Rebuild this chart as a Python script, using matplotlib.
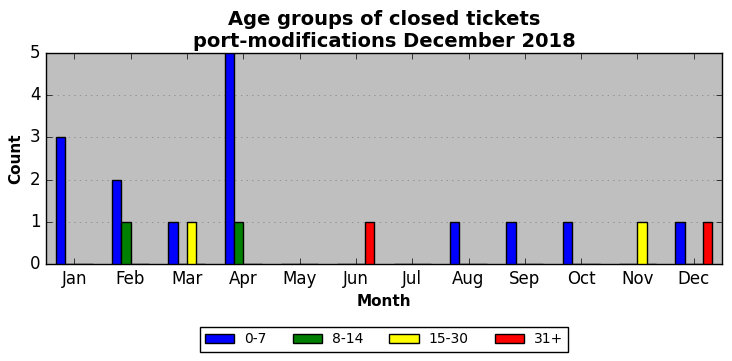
import numpy as np
import matplotlib
matplotlib.use('Agg')
import matplotlib.pyplot as plt

plt.style.use('classic')

months = ['Jan', 'Feb', 'Mar', 'Apr', 'May', 'Jun', 'Jul', 'Aug', 'Sep', 'Oct', 'Nov', 'Dec']
groups = ['0-7', '8-14', '15-30', '31+']
colors = ['blue', 'green', 'yellow', 'red']

age_0_7 = [3, 2, 1, 5, 0, 0, 0, 1, 1, 1, 0, 1]
age_8_14 = [0, 1, 0, 1, 0, 0, 0, 0, 0, 0, 0, 0]
age_15_30 = [0, 0, 1, 0, 0, 0, 0, 0, 0, 0, 1, 0]
age_31 = [0, 0, 0, 0, 0, 1, 0, 0, 0, 0, 0, 1]
series = [age_0_7, age_8_14, age_15_30, age_31]

fig = plt.figure(figsize=(7.32, 3.61), dpi=100, facecolor='white')
ax = fig.add_axes([46/732, 1-264/361, 676/732, 211/361])
ax.set_facecolor('#bfbfbf')

x = np.arange(len(months))
w = 0.165
for i in range(4):
    ax.bar(x + (i - 1.5) * w, series[i], w, color=colors[i], edgecolor='black',
           linewidth=1, label=groups[i], align='center', zorder=3)

ax.set_xlim(-0.5, 11.5)
ax.set_ylim(0, 5)
ax.set_xticks(x)
ax.set_xticklabels(months, fontsize=12)
ax.tick_params(axis='y', labelsize=12)
ax.yaxis.grid(True, linestyle=':', color='#808080', zorder=0)
ax.set_axisbelow(True)
ax.set_xlabel('Month', fontsize=11, fontweight='bold')
ax.set_ylabel('Count', fontsize=11, fontweight='bold')
ax.set_title('Age groups of closed tickets\nport-modifications December 2018',
             fontsize=14, fontweight='bold', y=0.995)

ax.legend(loc='upper center', bbox_to_anchor=(0.5, -0.265), ncol=4, fontsize=10,
          frameon=True, fancybox=False, handlelength=2.1, handleheight=0.7,
          handletextpad=0.7, columnspacing=1.9, borderpad=0.4)

fig.savefig('out.png', dpi=100, facecolor='white')
